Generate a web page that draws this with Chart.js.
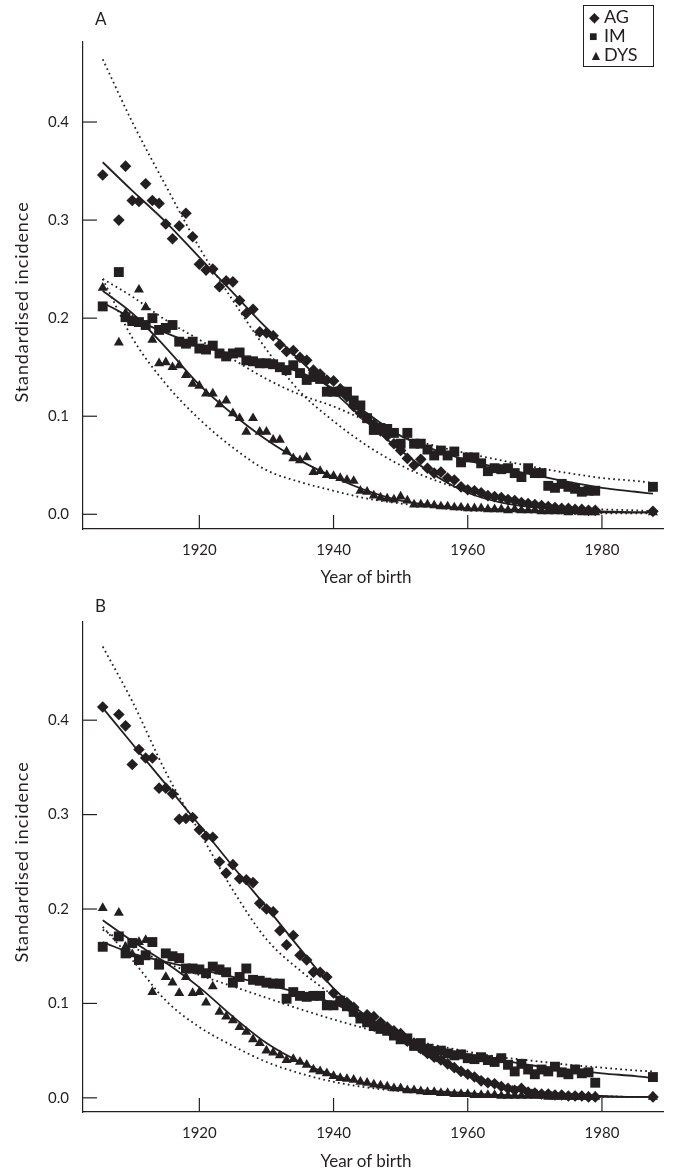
<!DOCTYPE html>
<html><head><meta charset="utf-8">
<script src="https://cdn.jsdelivr.net/npm/chart.js@4"></script>
<style>
html,body{margin:0;padding:0;background:#fff;}
body{width:682px;height:1171px;position:relative;overflow:hidden;font-family:Lato,"Noto Sans",sans-serif;color:#231f20;}
canvas{position:absolute;left:0;}
.lbl{position:absolute;font-size:17px;white-space:nowrap;line-height:1;}
.ytitle{position:absolute;transform:translate(-50%,-50%) rotate(-90deg);font-size:18px;letter-spacing:0.9px;white-space:nowrap;line-height:1;}
.xtitle{position:absolute;transform:translate(-50%,-50%);font-size:17px;white-space:nowrap;line-height:1;}
#legend{position:absolute;left:583px;top:5px;width:64px;border:1px solid #231f20;padding:1px 0 2px 5px;font-size:18px;line-height:18px;}
#legend span.m{display:inline-block;width:15px;font-size:14px;vertical-align:1px;}
</style></head><body>
<canvas id="ca" width="682" height="590" style="top:0"></canvas>
<canvas id="cb" width="682" height="586" style="top:585px"></canvas>
<div class="lbl" style="left:95px;top:10px">A</div>
<div class="lbl" style="left:95px;top:597px">B</div>
<div class="ytitle" style="left:21px;top:302px">Standardised incidence</div>
<div class="ytitle" style="left:21px;top:862px">Standardised incidence</div>
<div class="xtitle" style="left:366px;top:576px">Year of birth</div>
<div class="xtitle" style="left:366px;top:1160px">Year of birth</div>
<div id="legend"><div><span class="m">&#9670;</span>AG</div><div><span class="m">&#9632;</span>IM</div><div><span class="m">&#9650;</span>DYS</div></div>
<script>
// ---- categories ----
const years = [1905.6, 1908, 1909,
 1910,1911,1912,1913,1914,1915,1916,1917,1918,1919,
 1920,1921,1922,1923,1924,1925,1926,1927,1928,1929,
 1930,1931,1932,1933,1934,1935,1936,1937,1938,1939,
 1940,1941,1942,1943,1944,1945,1946,1947,1948,1949,
 1950,1951,1952,1953,1954,1955,1956,1957,1958,1959,
 1960,1961,1962,1963,1964,1965,1966,1967,1968,1969,
 1970,1971,1972,1973,1974,1975,1976,1977,1978,1979,
 1987.6];
const fitYears = [1905.6,1910,1915,1920,1925,1930,1935,1940,1945,1950,1955,1960,1965,1970,1975,1980,1985,1987.6];
const xTickValues = [1920,1940,1960,1980];
const yTickValues = [0,0.1,0.2,0.3,0.4];
const seriesNames = ['AG','IM','DYS'];

// ---- Panel A observed ----
const agA = [0.346,0.300,0.355,
 0.320,0.319,0.337,0.320,0.317,0.296,0.281,0.294,0.307,0.283,
 0.255,0.249,0.250,0.232,0.238,0.237,0.218,0.205,0.209,0.186,
 0.185,0.182,0.173,0.166,0.167,0.160,0.157,0.147,0.143,0.137,
 0.136,0.128,0.120,0.110,0.103,0.098,0.092,0.085,0.080,0.072,
 0.065,0.057,0.050,0.056,0.047,0.042,0.043,0.037,0.035,0.028,
 0.025,0.024,0.022,0.019,0.018,0.017,0.015,0.014,0.012,0.011,
 0.010,0.009,0.008,0.007,0.006,0.006,0.005,0.005,0.004,0.004,
 0.003];
const imA = [0.212,0.247,0.201,
 0.197,0.196,0.193,0.200,0.188,0.190,0.193,0.176,0.174,0.176,
 0.169,0.168,0.172,0.164,0.161,0.164,0.165,0.157,0.156,0.154,
 0.154,0.153,0.150,0.147,0.152,0.144,0.137,0.140,0.138,0.125,
 0.125,0.125,0.125,0.116,0.111,0.098,0.086,0.088,0.087,0.083,
 0.072,0.083,0.072,0.072,0.066,0.060,0.065,0.060,0.064,0.053,
 0.058,0.058,0.052,0.044,0.047,0.046,0.047,0.042,0.038,0.047,
 0.042,0.042,0.029,0.027,0.031,0.028,0.026,0.023,0.024,0.024,
 0.028];
const dysA = [0.231,0.175,0.205,
 0.198,0.229,0.211,0.178,0.154,0.155,0.150,0.152,0.142,0.133,
 0.131,0.123,0.123,0.112,0.116,0.103,0.098,0.084,0.098,0.084,
 0.084,0.076,0.076,0.064,0.057,0.055,0.058,0.043,0.044,0.040,
 0.039,0.037,0.035,0.034,0.024,0.023,0.019,0.017,0.016,0.015,
 0.018,0.014,0.010,0.010,0.010,0.009,0.008,0.008,0.007,0.007,
 0.006,0.006,0.006,0.005,0.005,0.005,0.004,0.005,0.004,0.004,
 0.004,0.003,0.003,0.003,0.003,0.002,0.003,0.002,0.002,0.002,
 0.002];
// ---- Panel A fitted curves ----
const agAFit  = [0.359,0.330,0.298,0.262,0.226,0.190,0.157,0.125,0.094,0.065,0.040,0.022,0.012,0.007,0.004,0.003,0.002,0.002];
const agAAlt  = [0.464,0.400,0.335,0.272,0.218,0.168,0.125,0.095,0.070,0.050,0.035,0.024,0.016,0.010,0.007,0.005,0.004,0.003];
const imAFit  = [0.216,0.200,0.185,0.172,0.163,0.155,0.145,0.128,0.103,0.080,0.066,0.055,0.047,0.040,0.033,0.027,0.023,0.021];
const imAAlt  = [0.240,0.222,0.198,0.178,0.158,0.138,0.122,0.110,0.095,0.080,0.070,0.062,0.055,0.048,0.042,0.037,0.034,0.032];
const dysAFit = [0.228,0.205,0.170,0.132,0.102,0.076,0.055,0.038,0.024,0.014,0.009,0.006,0.005,0.004,0.003,0.002,0.002,0.002];
const dysAAlt = [0.240,0.180,0.133,0.097,0.068,0.045,0.033,0.024,0.016,0.011,0.007,0.004,0.003,0.002,0.001,0.001,0.001,0.001];

// ---- Panel B observed ----
const agB = [0.414,0.406,0.394,
 0.353,0.369,0.360,0.360,0.328,0.328,0.322,0.295,0.296,0.297,
 0.284,0.277,0.276,0.250,0.238,0.247,0.232,0.231,0.228,0.206,
 0.200,0.197,0.177,0.162,0.172,0.151,0.146,0.133,0.133,0.128,
 0.111,0.102,0.101,0.096,0.086,0.088,0.086,0.080,0.075,0.071,
 0.068,0.060,0.058,0.052,0.047,0.043,0.040,0.036,0.032,0.028,
 0.025,0.022,0.018,0.016,0.015,0.012,0.010,0.008,0.010,0.006,
 0.005,0.004,0.004,0.003,0.003,0.002,0.002,0.002,0.001,0.001,
 0.001];
const imB = [0.160,0.171,0.153,
 0.164,0.146,0.151,0.165,0.141,0.153,0.150,0.148,0.137,0.137,
 0.136,0.132,0.139,0.136,0.133,0.122,0.128,0.137,0.125,0.124,
 0.122,0.121,0.121,0.105,0.112,0.108,0.107,0.108,0.108,0.098,
 0.098,0.103,0.097,0.091,0.084,0.080,0.076,0.073,0.071,0.066,
 0.062,0.063,0.055,0.058,0.052,0.049,0.050,0.047,0.045,0.046,
 0.042,0.041,0.043,0.040,0.038,0.042,0.035,0.028,0.036,0.030,
 0.025,0.030,0.028,0.033,0.027,0.025,0.030,0.026,0.027,0.016,
 0.022];
const dysB = [0.201,0.196,0.160,
 0.152,0.165,0.167,0.112,0.140,0.128,0.122,0.111,0.128,0.111,
 0.112,0.101,0.118,0.091,0.086,0.082,0.075,0.070,0.062,0.058,
 0.050,0.048,0.045,0.040,0.041,0.038,0.035,0.030,0.028,0.026,
 0.023,0.021,0.020,0.019,0.017,0.016,0.014,0.013,0.012,0.010,
 0.010,0.008,0.008,0.007,0.006,0.006,0.005,0.005,0.004,0.004,
 0.004,0.003,0.003,0.003,0.003,0.002,0.002,0.002,0.002,0.002,
 0.002,0.002,0.001,0.001,0.001,0.001,0.001,0.001,0.001,0.001,
 0.001];
// ---- Panel B fitted curves ----
const agBFit  = [0.413,0.375,0.332,0.289,0.245,0.202,0.158,0.116,0.086,0.062,0.042,0.025,0.013,0.006,0.003,0.002,0.001,0.001];
const agBAlt  = [0.478,0.420,0.345,0.282,0.220,0.168,0.135,0.108,0.082,0.060,0.040,0.026,0.015,0.008,0.004,0.002,0.001,0.001];
const imBFit  = [0.165,0.153,0.144,0.136,0.128,0.120,0.111,0.100,0.082,0.064,0.054,0.046,0.040,0.034,0.030,0.026,0.023,0.021];
const imBAlt  = [0.178,0.160,0.143,0.130,0.118,0.106,0.094,0.083,0.073,0.064,0.056,0.049,0.043,0.039,0.035,0.032,0.029,0.028];
const dysBFit = [0.188,0.166,0.143,0.117,0.086,0.058,0.038,0.024,0.015,0.010,0.007,0.005,0.003,0.002,0.002,0.001,0.001,0.001];
const dysBAlt = [0.181,0.146,0.103,0.075,0.055,0.038,0.026,0.017,0.011,0.007,0.005,0.003,0.002,0.001,0.001,0.001,0.001,0.001];

const INK = '#231f20';
const xy = (xs, ys) => xs.map((x,i)=>({x:x, y:ys[i]})).filter(p=>p.y!==null);

function pts(name, ys, style, r){
  return {label:name, data:xy(years, ys), showLine:false, pointStyle:style, pointRadius:r, pointHoverRadius:r,
    backgroundColor:INK, borderColor:INK, borderWidth:0, order:0};
}
function curve(ys, dashed){
  return {data:xy(fitYears, ys), showLine:true, pointRadius:0, borderColor:INK, borderWidth:1.8,
    borderDash:dashed?[1.7,3.3]:[], cubicInterpolationMode:'monotone', fill:false, order:1};
}

const inwardTicks = {
  id:'inwardTicks',
  beforeDatasetsDraw(chart){
    const ctx = chart.ctx, xs = chart.scales.x, ys = chart.scales.y;
    ctx.save(); ctx.strokeStyle = INK; ctx.lineWidth = 1.2;
    xs.ticks.forEach(t=>{ const px = xs.getPixelForValue(t.value);
      ctx.beginPath(); ctx.moveTo(px, xs.top); ctx.lineTo(px, xs.top-14); ctx.stroke(); });
    ys.ticks.forEach(t=>{ const py = ys.getPixelForValue(t.value);
      ctx.beginPath(); ctx.moveTo(ys.right, py); ctx.lineTo(ys.right+14, py); ctx.stroke(); });
    ctx.restore();
  }
};

function makeChart(id, obs, fits, alts, yMax, padTop, xH){
  const ds = [
    pts(seriesNames[0], obs[0], 'rectRot', 5.8),
    pts(seriesNames[1], obs[1], 'rect', 7),
    pts(seriesNames[2], obs[2], 'triangle', 5.8),
    curve(fits[0], false), curve(fits[1], false), curve(fits[2], false),
    curve(alts[0], true), curve(alts[1], true), curve(alts[2], true)
  ];
  return new Chart(document.getElementById(id), {
    type:'scatter',
    data:{datasets:ds},
    plugins:[inwardTicks],
    options:{
      responsive:false, animation:false, devicePixelRatio:1,
      layout:{padding:{top:padTop, right:19, left:0, bottom:0}},
      plugins:{legend:{display:false}, tooltip:{enabled:false}},
      scales:{
        x:{type:'linear', min:1902.66, max:1989.1,
           afterBuildTicks:s=>{s.ticks = xTickValues.map(v=>({value:v}));},
           afterFit:s=>{s.height = xH;},
           grid:{display:false, drawTicks:false},
           border:{display:true, color:INK, width:1.2},
           ticks:{color:INK, font:{family:'Lato', size:15}, padding:12, maxRotation:0, callback:v=>String(v)}},
        y:{type:'linear', min:-0.015, max:yMax,
           afterBuildTicks:s=>{s.ticks = yTickValues.map(v=>({value:v}));},
           afterFit:s=>{s.width = 83;},
           grid:{display:false, drawTicks:false},
           border:{display:true, color:INK, width:1.2},
           ticks:{color:INK, font:{family:'Lato', size:15}, padding:14, callback:v=>Number(v).toFixed(1)}}
      }
    }
  });
}

makeChart('ca', [agA, imA, dysA], [agAFit, imAFit, dysAFit], [agAAlt, imAAlt, dysAAlt], 0.4816, 42, 61);
makeChart('cb', [agB, imB, dysB], [agBFit, imBFit, dysBFit], [agBAlt, imBAlt, dysBAlt], 0.504, 37, 59);
</script>
</body></html>
